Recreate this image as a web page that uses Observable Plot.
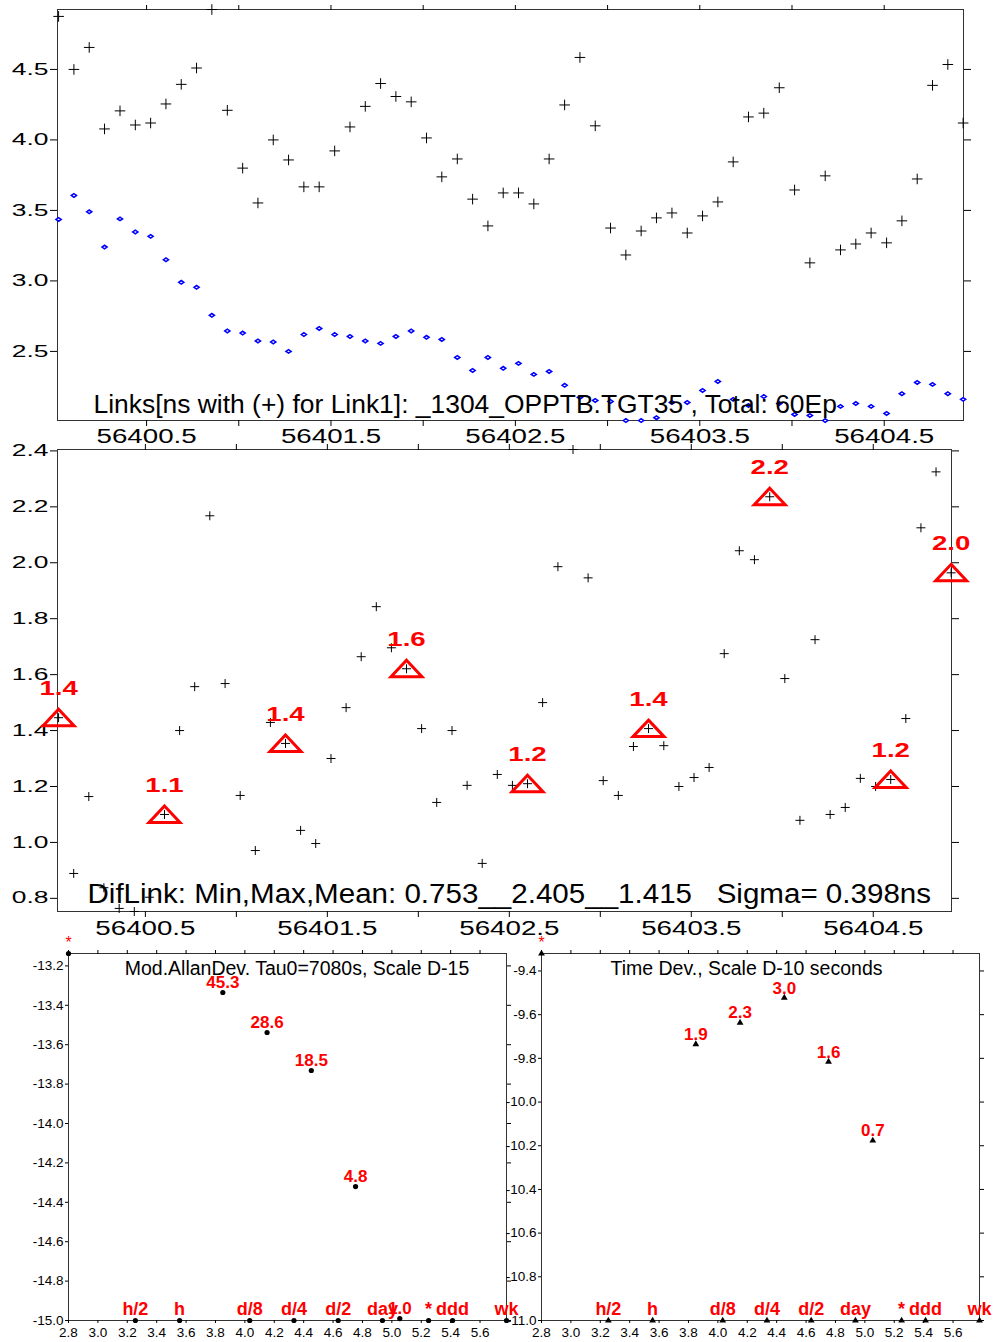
<!DOCTYPE html>
<html><head><meta charset="utf-8">
<script src="https://cdn.jsdelivr.net/npm/d3@7"></script>
<script src="https://cdn.jsdelivr.net/npm/@observablehq/plot@0.6"></script>
<style>
html,body{margin:0;padding:0;background:#fff;}
#root{position:relative;width:993px;height:1342px;overflow:hidden;background:#fff;}
</style></head>
<body><div id="root"></div>
<script>
// ---------- DATA ----------
const mjd = [
56400.023,56400.106,56400.189,56400.272,56400.356,56400.439,56400.522,56400.605,56400.688,56400.771,
56400.854,56400.938,56401.021,56401.104,56401.187,56401.270,56401.353,56401.436,56401.520,56401.603,
56401.686,56401.769,56401.852,56401.935,56402.018,56402.101,56402.185,56402.268,56402.351,56402.434,
56402.517,56402.600,56402.683,56402.767,56402.850,56402.933,56403.016,56403.099,56403.182,56403.265,
56403.349,56403.432,56403.515,56403.598,56403.681,56403.764,56403.847,56403.931,56404.014,56404.097,
56404.180,56404.263,56404.346,56404.429,56404.513,56404.596,56404.679,56404.762,56404.845,56404.928];
const link1 = [
4.876,4.50,4.656,4.078,4.206,4.106,4.12,4.255,4.394,4.51,
4.925,4.21,3.80,3.553,4.00,3.858,3.667,3.667,3.922,4.092,
4.238,4.40,4.308,4.27,4.014,3.738,3.865,3.58,3.39,3.624,
3.624,3.546,3.865,4.248,4.585,4.10,3.375,3.184,3.354,3.447,
3.482,3.34,3.461,3.56,3.844,4.163,4.19,4.37,3.645,3.128,
3.745,3.22,3.262,3.34,3.27,3.426,3.723,4.387,4.535,4.12];
const link2 = [
3.436,3.606,3.49,3.24,3.44,3.347,3.316,3.15,2.99,2.955,
2.756,2.645,2.63,2.574,2.567,2.50,2.62,2.663,2.62,2.606,
2.574,2.557,2.606,2.645,2.60,2.585,2.457,2.365,2.457,2.38,
2.415,2.337,2.358,2.26,2.174,2.152,2.145,2.01,2.01,2.03,
2.138,2.138,2.223,2.287,2.16,2.117,2.18,2.13,2.053,2.046,
2.01,2.11,2.13,2.11,2.06,2.20,2.28,2.266,2.20,2.16];
const difLink = [
1.446,0.889,1.164,0.838,0.764,0.753,0.804,1.10,1.40,1.557,
2.168,1.568,1.168,0.971,1.429,1.354,1.043,0.996,1.30,1.482,
1.664,1.843,1.696,1.621,1.407,1.143,1.40,1.204,0.925,1.243,
1.204,1.21,1.50,1.986,2.405,1.946,1.221,1.168,1.343,1.407,
1.346,1.20,1.232,1.268,1.675,2.043,2.011,2.236,1.586,1.079,
1.725,1.10,1.125,1.229,1.20,1.225,1.443,2.125,2.325,1.964];
const markIdx = [0,7,15,23,31,39,47,55,59];
const markLabels = ["1.4","1.1","1.4","1.6","1.2","1.4","2.2","1.2","2.0"];

const xTicks = [56400.5,56401.0,56401.5,56402.0,56402.5,56403.0,56403.5,56404.0,56404.5];
const xTickLabels = ["56400.5","","56401.5","","56402.5","","56403.5","","56404.5"];
const yTicksTop = [2.5,3.0,3.5,4.0,4.5];
const yTicksMid = [0.8,1.0,1.2,1.4,1.6,1.8,2.0,2.2,2.4];

const topTitle = "Links[ns with (+) for Link1]: _1304_OPPTB.TGT35 , Total: 60Ep";
const midTitle = "DifLink: Min,Max,Mean: 0.753__2.405__1.415   Sigma= 0.398ns";
const adevTitle = "Mod.AllanDev. Tau0=7080s, Scale D-15";
const tdevTitle = "Time Dev., Scale D-10 seconds";

const tauLog = [3.85,4.151,4.452,4.753,5.054];
const adevLog = [-13.335,-13.538,-13.731,-14.32,-14.99];
const adevLabels = ["45.3","28.6","18.5","4.8","1.0"];
const tdevLog = [-9.735,-9.636,-9.522,-9.815,-10.176];
const tdevLabels = ["1.9","2.3","3.0","1.6","0.7"];

const markerNames = ["h/2","h","d/8","d/4","d/2","day","*","ddd","wk"];
const markerLog = [3.255,3.556,4.033,4.334,4.635,4.936,5.25,5.413,5.78];

const bxTicks = [2.8,3.0,3.2,3.4,3.6,3.8,4.0,4.2,4.4,4.6,4.8,5.0,5.2,5.4,5.6];
const adevYTicks = [-15.0,-14.8,-14.6,-14.4,-14.2,-14.0,-13.8,-13.6,-13.4,-13.2];
const tdevYTicks = [-11.0,-10.8,-10.6,-10.4,-10.2,-10.0,-9.8,-9.6,-9.4];

// ---------- HELPERS ----------
const root = document.getElementById("root");
const W = 993;
const FONT = "'Liberation Sans', Arial, Helvetica, sans-serif";
const STYLE = {fontFamily: FONT, background: "transparent", overflow: "visible", color: "black"};
const idx = mjd.map((_, i) => i);
const xLabelOf = new Map(xTicks.map((t, i) => [t, xTickLabels[i]]));

const plus = h => ({draw(c){c.moveTo(-h,0);c.lineTo(h,0);c.moveTo(0,-h);c.lineTo(0,h);}});
const diamond = {draw(c){c.moveTo(-2.6,0);c.lineTo(0,-1.8);c.lineTo(2.6,0);c.lineTo(0,1.8);c.closePath();}};
const bigTri = {draw(c){c.moveTo(0,-8.5);c.lineTo(15.5,8);c.lineTo(-15.5,8);c.closePath();}};
const smallTri = {draw(c){c.moveTo(0,-3.8);c.lineTo(3.4,2.1);c.lineTo(-3.4,2.1);c.closePath();}};

function place(svg, top) {
  svg.style.position = "absolute";
  svg.style.left = "0px";
  svg.style.top = top + "px";
  svg.style.background = "transparent";
  svg.style.overflow = "visible";
  svg.style.maxWidth = "none";
  root.appendChild(svg);
}
function stretch(svg, selector, sx) {
  svg.querySelectorAll(selector).forEach(t => {
    const tr = t.getAttribute("transform") || "";
    t.setAttribute("transform", (tr + ` scale(${sx},1)`).trim());
  });
}

// ---------- TOP PANEL ----------
const xDomain = [56400.017, 56404.93];
const topPlot = Plot.plot({
  width: W, height: 440, marginTop: 9, marginBottom: 20, marginLeft: 57, marginRight: 30,
  style: STYLE,
  x: {domain: xDomain}, y: {domain: [2.01, 4.925]},
  marks: [
    Plot.frame({stroke: "#333"}),
    Plot.axisX({anchor: "bottom", ticks: xTicks, tickSize: 6, tickPadding: 2, tickFormat: d => xLabelOf.get(d) ?? "", fontSize: 21, label: null}),
    Plot.axisX({anchor: "top", ticks: xTicks, tickSize: 5, tickFormat: () => "", label: null}),
    Plot.axisY({anchor: "left", ticks: yTicksTop, tickSize: 7, tickPadding: 2, tickFormat: d => d.toFixed(1), fontSize: 16, label: null}),
    Plot.axisY({anchor: "right", ticks: yTicksTop, tickSize: 7, tickFormat: () => "", label: null}),
    Plot.dot(idx, {x: i => mjd[i], y: i => link2[i], symbol: diamond, stroke: "#0000ff", strokeWidth: 1.5, fill: "white"}),
    Plot.dot(idx, {x: i => mjd[i], y: i => link1[i], symbol: plus(5.3), stroke: "black", strokeWidth: 1, fill: "none"}),
    Plot.text([topTitle], {text: d => d, frameAnchor: "bottom-left", dx: 36, dy: -16, textAnchor: "start", lineAnchor: "middle", fontSize: 25, fill: "black"})
  ]
});
stretch(topPlot, 'g[aria-label="y-axis tick label"] text', 1.65);
stretch(topPlot, 'g[aria-label="x-axis tick label"] text', 1.32);
stretch(topPlot, 'g[aria-label="text"][fill="black"] text', 1.057);
place(topPlot, 0);

// ---------- MIDDLE PANEL ----------
const midPlot = Plot.plot({
  width: W, height: 495, marginTop: 9, marginBottom: 24, marginLeft: 57, marginRight: 42,
  style: STYLE,
  x: {domain: xDomain}, y: {domain: [0.753, 2.405]},
  marks: [
    Plot.frame({stroke: "#333"}),
    Plot.axisX({anchor: "bottom", ticks: xTicks, tickSize: 6, tickPadding: 3, tickFormat: d => xLabelOf.get(d) ?? "", fontSize: 21, label: null}),
    Plot.axisX({anchor: "top", ticks: xTicks, tickSize: 6, tickFormat: () => "", label: null}),
    Plot.axisY({anchor: "left", ticks: yTicksMid, tickSize: 7, tickPadding: 2, tickFormat: d => d.toFixed(1), fontSize: 16, label: null}),
    Plot.axisY({anchor: "right", ticks: yTicksMid, tickSize: 7, tickFormat: () => "", label: null}),
    Plot.dot(idx, {x: i => mjd[i], y: i => difLink[i], symbol: plus(4.5), stroke: "black", strokeWidth: 1, fill: "none"}),
    Plot.dot(markIdx, {x: i => mjd[i], y: i => difLink[i], symbol: bigTri, stroke: "red", strokeWidth: 3, fill: "none", strokeLinejoin: "miter"}),
    Plot.text(markIdx, {x: i => mjd[i], y: i => difLink[i], text: (i, j) => markLabels[j], dy: -29, lineAnchor: "middle", fill: "red", fontWeight: "bold", fontSize: 20}),
    Plot.text([midTitle], {text: d => d, frameAnchor: "bottom-left", dx: 30, dy: -17.5, textAnchor: "start", lineAnchor: "middle", fontSize: 27, fill: "black"})
  ]
});
stretch(midPlot, 'g[aria-label="y-axis tick label"] text', 1.65);
stretch(midPlot, 'g[aria-label="x-axis tick label"] text', 1.32);
stretch(midPlot, 'g[aria-label="text"][fill="black"] text', 1.095);
stretch(midPlot, 'g[aria-label="text"][fill="red"] text', 1.38);
place(midPlot, 440);

// ---------- BOTTOM PANELS ----------
function devPanel({marginLeft, marginRight, yDomain, yTicks, vals, labels, title, titleDx, symbol, r}) {
  const yTop = yDomain[1], yBot = yDomain[0];
  const markerOpts = symbol ? {symbol, fill: "black", stroke: "none"} : {r, fill: "black", stroke: "none"};
  return Plot.plot({
    width: W, height: 412, marginTop: 23, marginBottom: 22, marginLeft, marginRight,
    style: STYLE,
    x: {domain: [2.8, 5.78]}, y: {domain: yDomain},
    marks: [
      Plot.frame({stroke: "#333"}),
      Plot.axisX({anchor: "bottom", ticks: bxTicks, tickSize: 3, tickPadding: 4, tickFormat: d => d.toFixed(1), fontSize: 13.5, label: null}),
      Plot.axisX({anchor: "top", ticks: bxTicks, tickSize: 4, tickFormat: () => "", label: null}),
      Plot.axisY({anchor: "left", ticks: yTicks, tickSize: 3, tickPadding: 2, tickFormat: d => d.toFixed(1), fontSize: 13.5, label: null}),
      Plot.axisY({anchor: "right", ticks: yTicks, tickSize: 4, tickFormat: () => "", label: null}),
      Plot.text([title], {text: d => d, frameAnchor: "top", dx: titleDx, dy: 15, lineAnchor: "middle", fontSize: 19.5, fill: "black"}),
      // corner marker with star
      Plot.dot([2.8], {x: d => d, y: () => yTop, ...markerOpts}),
      Plot.text([2.8], {x: d => d, y: () => yTop, text: () => "*", dy: -11, lineAnchor: "middle", fontSize: 16, fill: "red"}),
      // tau reference markers on the bottom axis
      Plot.dot(markerLog, {x: d => d, y: () => yBot, ...markerOpts}),
      Plot.text(markerLog, {x: d => d, y: () => yBot, text: (d, i) => markerNames[i], dy: -11, lineAnchor: "middle", fontSize: 18, fontWeight: "bold", fill: "red"}),
      // deviation values
      Plot.dot(tauLog, {x: d => d, y: (d, i) => vals[i], ...markerOpts}),
      Plot.text(tauLog, {x: d => d, y: (d, i) => vals[i], text: (d, i) => labels[i], dy: -9.5, lineAnchor: "middle", fontSize: 17, fontWeight: "bold", fill: "red"})
    ]
  });
}
const adevPlot = devPanel({marginLeft: 68, marginRight: 487, yDomain: [-15, -13.137], yTicks: adevYTicks,
  vals: adevLog, labels: adevLabels, title: adevTitle, titleDx: 9.5, r: 2.6});
place(adevPlot, 930);
const tdevPlot = devPanel({marginLeft: 541, marginRight: 14, yDomain: [-11, -9.32], yTicks: tdevYTicks,
  vals: tdevLog, labels: tdevLabels, title: tdevTitle, titleDx: -14, symbol: smallTri});
place(tdevPlot, 930);
</script>
</body></html>
